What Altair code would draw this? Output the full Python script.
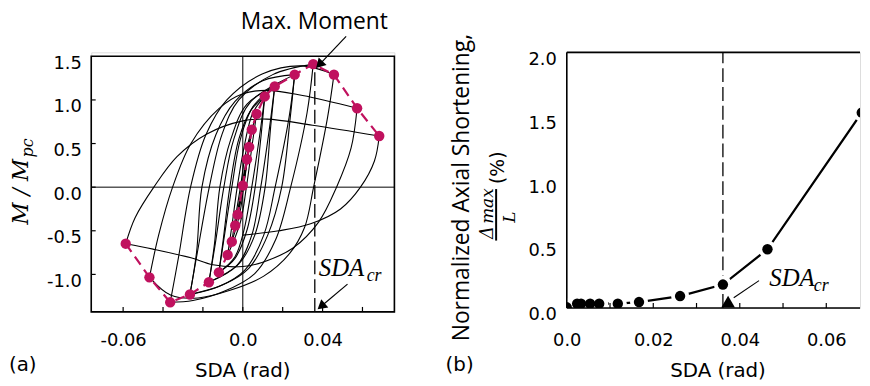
import altair as alt
import pandas as pd

MAG = "#C0115E"

# ---------------- panel (a): backbone (peak) points ----------------
neg_sda = [-0.0026, -0.0038, -0.0055, -0.0076, -0.012, -0.017, -0.0265, -0.0364, -0.0468, -0.0587]
neg_m = [-0.315, -0.44, -0.625, -0.777, -0.977, -1.09, -1.23, -1.32, -1.034, -0.648]
origin_sda = [0.0]
origin_m = [0.018]
pos_sda = [0.0021, 0.0032, 0.0045, 0.0069, 0.011, 0.016, 0.026, 0.0353, 0.0457, 0.0573, 0.0684]
pos_m = [0.32, 0.46, 0.66, 0.84, 1.04, 1.155, 1.29, 1.41, 1.29, 0.905, 0.586]

# ---------------- panel (a): hysteresis branches (SDA, M/Mpc) ----------------
a0 = [(0.0, 0.018), (0.001, 0.17), (0.0021, 0.32)]
d1 = [(0.0021, 0.32), (0.0008, 0.1), (-0.0005, -0.1), (-0.0026, -0.315)]
a1 = [(-0.0026, -0.315), (-0.0012, -0.12), (0.0008, 0.15), (0.0032, 0.46)]
d2 = [(0.0032, 0.46), (0.0015, 0.2), (0.0, 0.0), (-0.0018, -0.22), (-0.0038, -0.44)]
a2 = [(-0.0038, -0.44), (-0.002, -0.2), (-0.0002, 0.05), (0.0018, 0.32), (0.0045, 0.66)]
d3 = [(0.0045, 0.66), (0.0027, 0.38), (0.0007, 0.05), (-0.0015, -0.3), (-0.0055, -0.625)]
a3 = [(-0.0055, -0.625), (-0.0037, -0.35), (-0.0012, 0.0), (0.0015, 0.4), (0.0069, 0.84)]
d4 = [(0.0069, 0.84), (0.0048, 0.5), (0.0018, 0.0), (-0.0012, -0.4), (-0.0076, -0.777)]
a4 = [(-0.0076, -0.777), (-0.0055, -0.45), (-0.0028, 0.0), (0.001, 0.5), (0.005, 0.85), (0.011, 1.04)]
d5 = [(0.011, 1.04), (0.0088, 0.65), (0.0045, 0.0), (0.0005, -0.5), (-0.004, -0.8), (-0.012, -0.977)]
a5r = [(-0.012, -0.977), (-0.0098, -0.6), (-0.0065, 0.0), (-0.002, 0.55), (0.004, 0.88), (0.011, 1.04)]
d5r = [(0.011, 1.04), (0.0092, 0.6), (0.0062, 0.0), (0.002, -0.5), (-0.004, -0.82), (-0.012, -0.977)]
a5 = [(-0.012, -0.977), (-0.0095, -0.6), (-0.0055, 0.0), (-0.0012, 0.55), (0.005, 0.92), (0.016, 1.155)]
d6 = [(0.016, 1.155), (0.0135, 0.7), (0.009, 0.0), (0.0045, -0.55), (-0.003, -0.9), (-0.017, -1.09)]
a6r = [(-0.017, -1.09), (-0.0142, -0.65), (-0.0115, 0.0), (-0.006, 0.55), (0.002, 0.95), (0.016, 1.155)]
d6r = [(0.016, 1.155), (0.014, 0.7), (0.0112, 0.0), (0.006, -0.55), (-0.002, -0.88), (-0.017, -1.09)]
a6 = [(-0.017, -1.09), (-0.0138, -0.65), (-0.0095, 0.0), (-0.0045, 0.55), (0.004, 0.98), (0.026, 1.29)]
d7 = [(0.026, 1.29), (0.0232, 0.8), (0.0162, 0.0), (0.0105, -0.55), (0.001, -0.95), (-0.012, -1.14), (-0.0265, -1.23)]
a7r = [(-0.0265, -1.23), (-0.0232, -0.75), (-0.0205, 0.0), (-0.0135, 0.6), (-0.004, 0.98), (0.01, 1.22), (0.026, 1.29)]
d7r = [(0.026, 1.29), (0.0238, 0.8), (0.0195, 0.0), (0.0125, -0.55), (0.003, -0.93), (-0.01, -1.12), (-0.0265, -1.23)]
a7 = [(-0.0265, -1.23), (-0.0228, -0.75), (-0.0168, 0.0), (-0.0105, 0.6), (-0.002, 1.0), (0.015, 1.29), (0.0353, 1.41)]
d8 = [(0.0353, 1.41), (0.0322, 0.85), (0.024, 0.0), (0.0165, -0.6), (0.006, -0.99), (-0.01, -1.2), (-0.025, -1.3), (-0.0364, -1.32)]
a8 = [(-0.0364, -1.32), (-0.0322, -0.8), (-0.0262, 0.0), (-0.0185, 0.6), (-0.008, 1.0), (0.01, 1.3), (0.03, 1.39), (0.0457, 1.29)]
d9 = [(0.0457, 1.29), (0.0425, 0.8), (0.0355, 0.0), (0.031, -0.46), (0.0235, -0.76), (0.0105, -1.02),
      (-0.006, -1.18), (-0.0224, -1.27), (-0.036, -1.24), (-0.0468, -1.034)]
a9 = [(-0.0468, -1.034), (-0.0422, -0.55), (-0.0352, 0.0), (-0.026, 0.5), (-0.012, 0.9), (0.0, 1.07),
      (0.012, 1.11), (0.03, 1.05), (0.0573, 0.905)]
d10 = [(0.0573, 0.905), (0.0543, 0.45), (0.047, 0.0), (0.038, -0.4), (0.025, -0.7), (0.01, -0.86), (0.0, -0.91),
       (-0.015, -0.89), (-0.026, -0.81), (-0.045, -0.71), (-0.0587, -0.648)]
a10 = [(-0.0587, -0.648), (-0.054, -0.35), (-0.0446, 0.0), (-0.033, 0.35), (-0.018, 0.61), (0.0, 0.76),
       (0.012, 0.78), (0.035, 0.71), (0.0684, 0.586)]
d11 = [(0.0684, 0.586), (0.066, 0.3), (0.059, 0.0), (0.049, -0.25), (0.034, -0.42), (0.018, -0.5), (0.0, -0.55)]

branches = [a0, d1, a1, d2, a2, d3, a3, d4, a4, d5, a5r, d5r, a5, d6, a6r, d6r, a6,
            d7, a7r, d7r, a7, d8, a8, d9, a9, d10, a10, d11]

# ---------------- panel (b): axial shortening ----------------
ax_sda = [0.0, 0.0024, 0.0033, 0.0054, 0.0075, 0.0118, 0.0167, 0.0262, 0.0361, 0.0464, 0.0682]
ax_short = [0.005, 0.033, 0.033, 0.033, 0.033, 0.033, 0.046, 0.093, 0.183, 0.459, 1.528]
sda_cr = 0.0361
sda_cr_marker = [(0.0373, 0.049)]

# tick positions / labels
a_xticks = [-0.06, -0.04, -0.02, 0.0, 0.02, 0.04, 0.06]
a_xlabels = [-0.06, 0.0, 0.04]
a_yticks = [-1.0, -0.5, 0.0, 0.5, 1.0]
a_ylabels = [-1.0, -0.5, 0.0, 0.5, 1.0, 1.5]
b_xticks = [0.01, 0.02, 0.03, 0.04, 0.05, 0.06]
b_xlabels = [0.0, 0.02, 0.04, 0.06]
b_ylabels = [0.0, 0.5, 1.0, 1.5, 2.0]

# ---------------- build tables ----------------
rows = []
for b, pts in enumerate(branches):
    for i, (x, m) in enumerate(pts):
        rows.append({"branch": b, "i": i, "sda": x, "m": m})
loop_df = pd.DataFrame(rows)

bb_sda = list(reversed(neg_sda)) + origin_sda + pos_sda
bb_m = list(reversed(neg_m)) + origin_m + pos_m
bb_df = pd.DataFrame({"sda": bb_sda, "m": bb_m, "i": list(range(len(bb_sda)))})
ax_df = pd.DataFrame({"sda": ax_sda, "s": ax_short})
one = pd.DataFrame({"k": [0]})

XEXPR = "datum.value == 0 ? '0.0' : (datum.value < 0 ? '-' + format(-datum.value, '.2f') : format(datum.value, '.2f'))"
YEXPR = "datum.value < 0 ? '-' + format(-datum.value, '.1f') : format(datum.value, '.1f')"

LAB = dict(title=None, domain=False, ticks=False, tickSize=0, grid=False, labelFont="DejaVu Sans",
           labelFontSize=18, labelColor="black", labelFlush=False, labelOverlap=False)

# panel sizes
WA, HA = 306, 262
WB, HB = 296, 258
XA_MIN, XA_MAX = -0.076, 0.076
YA_MIN, YA_TOP, YA_MAX = -1.43, 1.5, 1.5455
XB_MAX = 0.0678

XA = alt.Scale(domain=[XA_MIN, XA_MAX], nice=False, zero=False)
YA = alt.Scale(domain=[YA_MIN, YA_MAX], nice=False, zero=False)
AXA = alt.Axis(values=a_xlabels, labelExpr=XEXPR, labelPadding=20, **LAB)
AYA = alt.Axis(values=a_ylabels, labelExpr=YEXPR, labelPadding=10, labelOffset=7, **LAB)

XB = alt.Scale(domain=[0, XB_MAX], nice=False, zero=False)
YB = alt.Scale(domain=[0, 2.0], nice=False, zero=False)
AXB = alt.Axis(values=b_xlabels, labelExpr=XEXPR, labelPadding=24, **LAB)
AYB = alt.Axis(values=b_ylabels, labelExpr=YEXPR, labelPadding=10.5, labelOffset=7, **LAB)


def xa(f):
    return alt.X(f, type="quantitative", scale=XA, axis=AXA)


def ya(f):
    return alt.Y(f, type="quantitative", scale=YA, axis=AYA)


def xb(f):
    return alt.X(f, type="quantitative", scale=XB, axis=AXB)


def yb(f):
    return alt.Y(f, type="quantitative", scale=YB, axis=AYB)


def seg(xf, yf, x1, y1, x2, y2, **kw):
    d = pd.DataFrame({"x1": [x1], "y1": [y1], "x2": [x2], "y2": [y2]})
    return alt.Chart(d).mark_rule(color="black", **kw).encode(
        x=xf("x1"), y=yf("y1"), x2="x2:Q", y2="y2:Q")


def txt(text, x, y, size, font, style="normal", angle=0, align="left"):
    return alt.Chart(one).mark_text(text=text, font=font, fontSize=size, fontStyle=style, angle=angle,
                                    align=align, baseline="alphabetic", color="black").encode(
        x=alt.value(x), y=alt.value(y))


# ================= panel (a) =================
loops = alt.Chart(loop_df).mark_line(color="black", strokeWidth=1.1, interpolate="catmull-rom").encode(
    x=xa("sda"), y=ya("m"), detail="branch:N", order="i:Q")

cross_h = seg(xa, ya, XA_MIN, 0.0, XA_MAX, 0.0, strokeWidth=1)
cross_v = seg(xa, ya, 0.0, YA_MIN, 0.0, YA_TOP, strokeWidth=1)
cr_line_a = seg(xa, ya, sda_cr, YA_MIN, sda_cr, pos_m[7], strokeWidth=1.3, strokeDash=[14, 5])

bb_line = alt.Chart(bb_df).mark_line(color=MAG, strokeWidth=2.2, strokeDash=[10, 6]).encode(
    x=xa("sda"), y=ya("m"), order="i:Q")
bb_pts = alt.Chart(bb_df).mark_circle(color=MAG, size=110, opacity=1).encode(x=xa("sda"), y=ya("m"))

frame_a = alt.Chart(pd.DataFrame({"x1": [XA_MIN], "x2": [XA_MAX], "y1": [YA_MIN], "y2": [YA_TOP]})).mark_rect(
    fillOpacity=0, stroke="black", strokeWidth=1.6).encode(x=xa("x1"), x2="x2:Q", y=ya("y1"), y2="y2:Q")

xt_a = alt.Chart(pd.DataFrame({"v": a_xticks})).mark_rule(color="black", strokeWidth=1.2).encode(
    x=xa("v"), y=alt.value(HA), y2=alt.value(HA - 5))
yt_a = alt.Chart(pd.DataFrame({"v": a_yticks})).mark_rule(color="black", strokeWidth=1.2).encode(
    y=ya("v"), x=alt.value(0), x2=alt.value(4.5))

# arrows
arr1_line = seg(xa, ya, 0.0518, 1.7275, 0.0384, 1.405, strokeWidth=1.2)
arr1_head = alt.Chart(pd.DataFrame({"x": [0.0384], "y": [1.405]})).mark_point(
    shape="triangle-up", filled=True, color="black", size=120, opacity=1, angle=223.6).encode(
    x=xa("x"), y=ya("y"))
arr2_line = seg(xa, ya, 0.0525, -1.111, 0.0393, -1.366, strokeWidth=1.2)
arr2_head = alt.Chart(pd.DataFrame({"x": [0.0393], "y": [-1.366]})).mark_point(
    shape="triangle-up", filled=True, color="black", size=120, opacity=1, angle=229.8).encode(
    x=xa("x"), y=ya("y"))

texts_a = [
    txt("Max. Moment", 151, -24, 23, "Open Sans"),
    txt("SDA", 229.7, 225.7, 25, "Liberation Serif", "italic"),
    txt("cr", 278, 230.7, 18, "Liberation Serif", "italic"),
    txt("M / M", -63.5, 140.7, 22, "DejaVu Serif", "italic", angle=270, align="center"),
    txt("pc", -58.7, 96.5, 16, "DejaVu Serif", "italic", angle=270, align="center"),
    txt("SDA (rad)", WA / 2, 327.5, 20, "DejaVu Sans", align="center"),
    txt("(a)", -83, 322, 20, "DejaVu Sans"),
]

panel_a = alt.layer(loops, cross_h, cross_v, cr_line_a, bb_line, bb_pts, frame_a, xt_a, yt_a,
                    arr1_line, arr1_head, arr2_line, arr2_head, *texts_a).properties(width=WA, height=HA)

# ================= panel (b) =================
cr_line_b = seg(xb, yb, sda_cr, 0.0, sda_cr, 2.0, strokeWidth=1.3, strokeDash=[14, 5])
ax_line = alt.Chart(ax_df).mark_line(color="black", strokeWidth=2.3, clip=True).encode(x=xb("sda"), y=yb("s"))
ax_halo = alt.Chart(ax_df).mark_circle(color="white", size=330, opacity=1, clip=True).encode(
    x=xb("sda"), y=yb("s"))
ax_pts = alt.Chart(ax_df).mark_circle(color="black", size=110, opacity=1, clip=True).encode(
    x=xb("sda"), y=yb("s"))

fr_left = seg(xb, yb, 0.0, 0.0, 0.0, 2.0, strokeWidth=1.6)
fr_top = seg(xb, yb, 0.0, 2.0, XB_MAX, 2.0, strokeWidth=1.6)
fr_bot = seg(xb, yb, 0.0, 0.0, XB_MAX, 0.0, strokeWidth=1.6)
xt_b = alt.Chart(pd.DataFrame({"v": b_xticks})).mark_rule(color="black", strokeWidth=1.2).encode(
    x=xb("v"), y=alt.value(HB), y2=alt.value(HB - 5))

tri_b = alt.Chart(pd.DataFrame(sda_cr_marker, columns=["x", "y"])).mark_point(
    shape="triangle-up", filled=True, color="black", size=190, opacity=1).encode(x=xb("x"), y=yb("y"))
arr_b = seg(xb, yb, 0.04445, 0.2137, 0.0386, 0.08, strokeWidth=1.1)

texts_b = [
    txt("SDA", 204.4, 235.7, 25, "Liberation Serif", "italic"),
    txt("cr", 249.4, 240.7, 18, "Liberation Serif", "italic"),
    txt("Normalized Axial Shortening,", -99, 136.5, 23, "Open Sans", angle=270, align="center"),
    txt("Δ", -74, 182, 18, "DejaVu Serif", "italic", angle=270, align="center"),
    txt("max", -74, 155.2, 17, "DejaVu Serif", "italic", angle=270, align="center"),
    txt("L", -52.3, 166.3, 17, "DejaVu Serif", "italic", angle=270, align="center"),
    txt("(%)", -62.9, 116.5, 19, "DejaVu Sans", angle=270, align="center"),
    txt("SDA (rad)", 152.7, 327.5, 20, "DejaVu Sans", align="center"),
    txt("(b)", -122.3, 322, 20, "DejaVu Sans"),
]
frac_bar = alt.Chart(one).mark_rule(color="black", strokeWidth=2).encode(
    x=alt.value(-71.3), y=alt.value(138), y2=alt.value(190))

panel_b = alt.layer(cr_line_b, ax_line, ax_halo, ax_pts, fr_left, fr_top, fr_bot, xt_b, tri_b, arr_b,
                    frac_bar, *texts_b).properties(width=WB, height=HB)

chart = alt.hconcat(panel_a, panel_b, spacing=174, bounds="flush", padding=0).configure_view(
    stroke=None).configure(background="white")

chart.save("out.html", embed_options={"renderer": "svg", "actions": False})
